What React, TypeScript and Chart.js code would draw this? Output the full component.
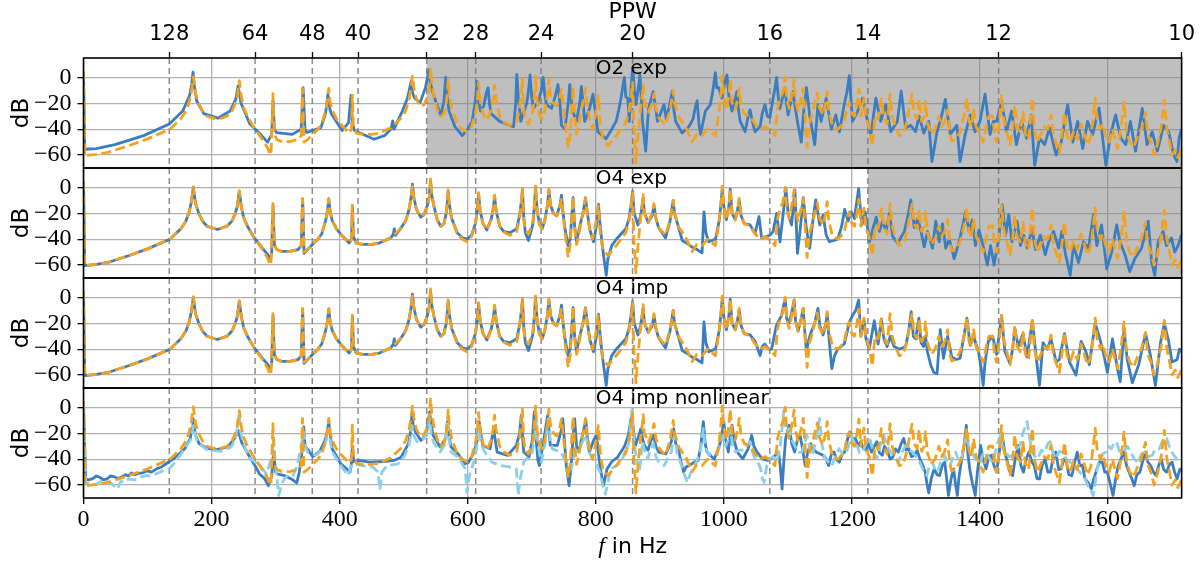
import React, { useEffect, useRef } from "react";
import { Chart, registerables } from "chart.js";
Chart.register(...registerables);

// ---------- axis definitions ----------
const F_MAX = 1715;
const PPW_FACTOR = 17150; // f [Hz] = PPW_FACTOR / PPW
const PPW_TICKS = [128, 64, 48, 40, 32, 28, 24, 20, 16, 14, 12, 10];
const F_TICKS = [0, 200, 400, 600, 800, 1000, 1200, 1400, 1600];
const DB_TICKS = [-60, -40, -20, 0];
const DB_MIN = -70;
const DB_MAX = 15;
const PANEL_LABELS = ["O2 exp", "O4 exp", "O4 imp", "O4 imp nonlinear"];
const SHADE_FROM_PPW = [32, 14, null, null];
const LABEL_AT_F = 800;

// ---------- data: [f in Hz, dB] ----------
const REF = [
  [0,5],[2,-60.5],[20,-59.5],[38,-58],[69,-53],[100,-47.5],[135,-40],[152,-32],[160,-26],[165,-19],[168.5,-11],[171.5,0.5],[175,-12.5],[180,-20],[186,-26],[193,-30],[209,-32.5],[224,-30],[232,-26],[237,-20],[240,-15],[243.4,-2.5],[246.5,-15],[250,-23],[256,-30],[266,-38.5],[281,-49],[288,-55],[291.5,-60],[293,-57],[295.8,-12.5],[298,-44],[302,-48],[310,-49.6],[322,-49.6],[335,-48],[340,-45],[342,-8.5],[344.5,-50],[350,-48],[358,-44],[366,-40],[372,-36],[378,-26],[381,-18],[383,-8.5],[385,-18],[388,-25],[395,-32],[405,-38],[415,-43],[418.5,-40],[419.8,-13.8],[421.5,-38],[426,-43],[436,-44],[450,-44],[462,-43],[480,-39],[495,-32],[503,-26],[508.5,-17],[511.5,-8],[513.7,1],[516,-8],[520,-17],[526.6,-22.5],[532,-21],[537,-15],[540,-8],[542,6.5],[544,-5],[547,-14],[552.5,-25],[558,-30],[563,-28],[566.5,-20],[568.5,-10],[569.5,-2],[571,-12],[575,-24],[583.7,-36],[592,-40],[599,-42],[606,-38],[612,-28],[615,-18],[617,-4],[619.5,-18],[624,-28],[630,-33],[637,-25],[640,-16],[642,-6],[644.5,-18],[650,-30],[656,-34.5],[666,-37],[676.7,-34],[681.5,-22],[684,-10],[685.5,-1],[687.5,-25],[690,-33],[695,-36],[702,-26],[704.5,-12],[706,1],[708.5,-18],[712,-29],[717,-32],[721,-24],[724.5,-14],[726.8,-1.3],[729.5,-14],[734,-20],[739,-22],[744,-15],[746.5,-9],[749,-20],[752,-35],[757,-54],[760,-45],[763,-20],[764.6,-7],[767,-30],[770,-44],[773,-38],[778,-24],[782,-16],[784,-8.5],[787,-22],[791,-34],[795,-40],[800,-28],[804,-14],[807,-35],[811,-47.5],[819,-52.7],[832,-45],[847,-35],[852,-26],[855,-16],[857.6,-4],[859.5,-40],[862.8,-66],[866,-45],[870,-24],[873,-12],[874,-5.5],[876,-20],[882,-27],[888,-20],[891,-12.5],[894,-24],[898,-31],[909,-37],[916,-25],[919.5,-15],[921,-10],[923,-20],[930,-31],[940,-38],[950.7,-49.6],[958,-44],[966,-45],[975,-40],[987,-45],[993,-25],[996,-10],[997.5,1],[1000,-15],[1004,-25],[1008,-14],[1010,-1.5],[1013,-20],[1018,-25],[1022,-16],[1024,-8.5],[1027,-22],[1032,-28],[1041,-30],[1049,-36],[1057,-40],[1065,-38],[1074.6,-42],[1080,-45],[1084,-24],[1088,-16],[1092,-12],[1094.5,-4],[1096,0],[1098,-16],[1102,-24],[1106,-14],[1109.8,-2],[1112,-18],[1116,-26],[1121,-16],[1124,-8.5],[1127,-30],[1130,-54],[1134,-35],[1138,-28],[1142,-20],[1146,-12],[1149,-23],[1155,-29],[1159,-20],[1161.5,-11],[1164,-26],[1170,-38],[1178,-40],[1188,-35],[1193,-22],[1196,-19],[1199,-27],[1204,-30],[1208,-20],[1211,-9],[1214,-30],[1219,-16],[1222,-32],[1227,-38],[1232,-53],[1236,-30],[1241,-32],[1246,-16.4],[1250,-30],[1255,-36],[1259.7,-12.5],[1263,-30],[1268,-38],[1274,-45],[1280,-44],[1286,-34],[1291,-20],[1294,-13],[1297,-28],[1302,-32],[1305,-17],[1309,-34],[1313,-30],[1315,-19],[1318,-35],[1324,-44],[1330,-40],[1336,-30],[1340,-38],[1345,-34],[1349.6,-25],[1353,-44],[1356,-49],[1362,-48],[1369,-42],[1375,-30],[1379.6,-16],[1383,-34],[1387,-38],[1390,-24],[1394,-38],[1400,-44],[1405,-50],[1410,-38],[1414,-30],[1419.9,-30],[1423,-45],[1426,-50],[1430,-35],[1433.8,-14],[1437,-32],[1443,-44],[1447,-52],[1451,-40],[1454.5,-21.5],[1458,-38],[1463,-42],[1467.4,-27],[1471,-44],[1476,-48],[1481.9,-16],[1485,-40],[1490,-50],[1495,-44],[1500,-38],[1506,-40],[1511,-29],[1515,-45],[1520,-52],[1524,-58],[1528,-44],[1532,-27],[1536,-45],[1541,-50],[1546,-42],[1552,-48],[1558,-36],[1563,-44],[1568,-52],[1573,-46],[1577,-30],[1580,-16],[1583,-32],[1588,-40],[1592,-36],[1597,-46],[1602,-50],[1607,-40],[1611,-48],[1615,-55],[1620,-40],[1625,-19],[1629,-42],[1634,-50],[1640,-54],[1646,-46],[1652,-40],[1658.6,-27],[1662,-44],[1667,-50],[1672,-60],[1677,-52],[1683,-38],[1688,-17.7],[1692,-40],[1697,-52],[1700,-60],[1705,-56],[1709,-62],[1713,-58],[1715,-55]
];

const O2_EXP = [
  [0,4],[2,-55.5],[20,-55],[49,-52],[94,-45],[134,-36],[155,-26],[165.7,-14],[169,-5],[171,4],[173,-6],[176.7,-18],[187.8,-28],[210,-31.5],[229,-26],[237.7,-17],[241.5,-6.5],[246,-20],[259.8,-36],[273.7,-42.6],[287.5,-50],[294,-44],[296,-18],[298,-40],[301.4,-42.6],[326,-44],[340,-40],[343,-8],[346,-40],[348.5,-42.6],[370.6,-39],[378,-28],[381.7,-13],[385,-25],[387,-28],[403.9,-41],[414,-35],[417.7,-14],[420,-35],[423,-41],[453.7,-47.8],[470,-45],[480,-40],[483,-33.6],[485,-40],[498,-26],[506,-16],[512,-2.6],[514,-12],[517,-16],[525.7,-19.5],[534,-8],[539.8,6],[542,-5],[545,-11],[551,-20],[558,-29],[563,-18],[565.6,0],[568,-15],[570.8,-26],[580,-38],[591.5,-45],[600,-40],[607,-34],[612,-18],[614.7,-3],[617,-18],[620,-26],[625,-22],[629,-12],[631.8,-8],[634,-20],[636.4,-28],[650,-34],[660,-36],[671.6,-38],[675,-20],[676.7,2.3],[679,-15],[683,-34],[692.2,-20],[695,-10],[697.4,2],[700,-15],[702.6,-24],[710,-19],[715,-10],[718,0],[720,-12],[723,-21],[731,-24],[737,-14],[741,-5.5],[744,-20],[746.5,-37],[751.7,-40],[757,-20],[759.4,-5.5],[762,-18],[764.6,-27],[769.8,-34],[775,-20],[777.5,-7],[780,-18],[782.7,-34],[790.4,-24],[795.6,-13],[799,-25],[803.4,-42],[816,-47.5],[825,-40],[831.8,-34],[836,-25],[839.5,-16],[842,-8],[844.7,0],[847,-15],[850,-16],[852.4,-34],[855,-10],[857.6,7.5],[860,-8],[862.8,-21],[866,-10],[869,2],[871,-15],[873,-34],[878,-57],[882.4,-24],[886,-18],[889.7,-11],[893,-22],[896.4,-34],[901,-28],[906.7,-21],[910,-32],[915,-22],[919.6,-10.6],[922,-25],[924.8,-34],[935,-43],[945.5,-38],[952,-32],[956,-22],[958.4,-18],[961,-35],[963.6,-44],[971.3,-26],[979,-21],[983,-10],[986.8,3.6],[989,-8],[992,-8],[997,-16],[1001,-5],[1004.9,2],[1008,-15],[1012.6,-26],[1017,-18],[1020.4,-11],[1023,-25],[1025.6,-34],[1033.3,-42],[1038,-30],[1041,-25],[1045,-35],[1048.8,-42],[1056.6,-38],[1060,-28],[1064.3,-21],[1068,-30],[1072,-31],[1077,-16],[1080,-8],[1082.4,0],[1085,-15],[1087.6,-24],[1092,-15],[1095.3,-8],[1098,-20],[1100.5,-29],[1104,-20],[1108,-11],[1112,-25],[1116,-37],[1121,-50],[1125,-25],[1129,-8],[1132,-20],[1134,-29],[1142,-52],[1147,-21],[1152,-34],[1160,-16],[1168,-40],[1175,-29],[1180.6,-42],[1188,-21],[1192,-12],[1196,1.3],[1201,-34],[1209,-26],[1216.8,-16],[1224.5,-34],[1229.7,-44],[1237.5,-16],[1245,-34],[1253,-21],[1260.7,-42],[1271,-34],[1277,-10.6],[1284,-39],[1291.7,-37],[1299.5,-42],[1305,-30],[1312.4,-43],[1320,-34],[1325,-65],[1333,-42],[1340,-30],[1346,-17],[1353.7,-44],[1364,-37],[1369,-65],[1377,-44],[1384.8,-29],[1392.5,-42],[1400,-34],[1408,-13],[1415.8,-44],[1421,-34],[1426,-34],[1433.8,-18.4],[1441.6,-42],[1449.4,-26],[1457,-52],[1465,-34],[1472.6,-47],[1480,-29],[1485.5,-68],[1493,-47],[1501,-52],[1508.8,-39],[1514,-50],[1519,-60],[1527,-50],[1532,-35],[1537,-21],[1545,-50],[1552.7,-34],[1560.5,-55],[1568,-34],[1576,-44],[1586,-23.6],[1590,-40],[1596.6,-68],[1604,-44],[1612,-29],[1620,-47],[1627.7,-52],[1635,-34],[1643,-57],[1653.5,-24],[1661,-52],[1669,-42],[1677,-57],[1687,-37],[1694.8,-42],[1702.5,-60],[1707.7,-65],[1711,-47],[1715,-40]
];

const O4_LOW = [
  [0,5],[2,-60.5],[20,-59.5],[38,-58],[69,-53],[100,-47.5],[135,-40],[152,-32],[160,-26],[165,-19],[168.5,-11],[171.5,0],[175,-12.5],[180,-20],[186,-26],[193,-30],[209,-32.5],[224,-30],[232,-26],[237,-20],[240,-15],[243.4,-3],[246.5,-15],[250,-23],[256,-30],[266,-38.5],[281,-48],[288,-52],[291.5,-57],[294,-50],[296,-14],[298,-44],[302,-48],[310,-49.5],[322,-49.5],[335,-48],[340,-45],[342.3,-9],[344.5,-51],[350,-48],[358,-44],[366,-40],[372,-36],[378,-26],[381,-18],[383,-9],[385,-18],[388,-25],[395,-32],[405,-38],[415,-43],[418.5,-40],[420,-15],[421.5,-38],[426,-43],[436,-44],[450,-44],[462,-43],[480,-39],[484,-36],[485.3,-32],[487,-37],[495,-32],[503,-26],[508.5,-17],[511.5,-8],[513.7,2.5],[516,-8],[520,-17],[526.6,-23],[532,-21],[537,-14],[540,-7],[542,5],[544,-6],[547,-14],[552.5,-25],[558,-30],[563,-28],[566.5,-20],[568.5,-10],[569.5,-3],[571,-12],[575,-24],[583.7,-35],[592,-39],[599,-40],[606,-37],[612,-28],[615,-18],[617,-5],[619.5,-18],[624,-28],[630,-33],[637,-24],[640,-16],[642,-7],[644.5,-18],[650,-30],[656,-34],[666,-35],[676.7,-32],[681.5,-20],[684,-10],[685.5,-2],[687.5,-22],[690,-35],[695,-41],[702,-28],[704.5,-12],[706,0],[708.5,-18],[712,-28],[717,-31],[721,-24],[724.5,-14],[726.8,-2],[729.5,-14],[734,-20],[739,-22],[744,-14],[746.5,-6],[749,-20],[752,-32],[756.8,-45],[760,-40],[763,-20],[764.6,-8],[767,-30],[770,-42],[775,-30],[780,-20],[784,-8],[787,-20],[791,-33],[796.6,-42],[801,-30],[804.3,-13],[807,-30],[811,-48],[816.4,-68],[819,-55],[825,-45],[832,-40],[847,-32],[852,-24],[855,-14],[857.6,-3],[860,-20],[866,-29],[870,-22],[873,-12],[874,-8],[876,-20],[882,-27],[888,-22],[891,-14],[894,-24],[898,-31],[909,-39],[916,-26],[919.5,-15],[921,-10],[923,-20],[930,-32],[935,-41],[945,-44],[950,-46],[958,-48],[966,-50.6],[969,-19],[972,-35],[976.5,-42],[987,-40],[993,-25],[996,-10],[997.5,-2],[1000,-15],[1004,-25],[1008,-14],[1010,-1.3],[1013,-20],[1018,-25],[1022,-16],[1024,-10],[1027,-22],[1032,-28],[1041,-29]
];

const O4_EXP_HIGH = [
  [1048.8,-35.5],[1055,-22.5],[1059,-39],[1066,-38],[1072,-37],[1077,-34],[1082.5,-20],[1087.7,-42],[1093,-19],[1097,-1],[1100.6,-21],[1105.8,-29],[1111,-2],[1115,-51],[1119,-34],[1124,-8],[1129,-32],[1134,-47],[1139.5,-24],[1143.6,-9.6],[1149.8,-29],[1155,-21.5],[1160,-37],[1165,-42],[1172,-41],[1178,-40],[1184,-30],[1188.7,-17],[1194,-26],[1199,-19],[1204,-24],[1210.5,-1],[1215.6,-29],[1221,-19],[1227.5,-42],[1232.7,-32],[1238,-23],[1243,-34],[1248,-26],[1253.5,-34],[1258.6,-20],[1263.8,-38],[1271.6,-43],[1282,-34],[1288,-21],[1292,-9.6],[1297.5,-31],[1302.7,-24],[1308,-34],[1313,-46],[1318,-34],[1326,-47],[1331,-26],[1336.4,-42],[1341.5,-28],[1346.7,-47],[1352,-40],[1359.7,-55],[1367.5,-42],[1377.8,-18.7],[1383,-34],[1388,-25],[1393,-45],[1398.5,-33],[1406,-47],[1411.5,-60],[1416.7,-45],[1422,-60],[1429.6,-39],[1434.8,-13.5],[1440,-37],[1445,-21],[1450,-42],[1458,-26],[1463.3,-45],[1468.5,-37],[1473.7,-47],[1481.4,-32],[1486.6,-48],[1494.4,-37],[1502,-52],[1507.4,-42],[1515,-34],[1523,-47],[1528,-34],[1533,-50],[1541,-68],[1546,-45],[1554,-58],[1561.7,-42],[1569.5,-47],[1577.3,-21],[1582.5,-45],[1590,-29],[1598,-63],[1605.8,-50],[1613.6,-29],[1618.7,-42],[1626.5,-52],[1634,-65],[1642,-55],[1652.4,-47],[1662.8,-26],[1668,-57],[1673,-68],[1678.3,-42],[1686,-34],[1691.3,-45],[1699,-39],[1704.2,-50],[1709.4,-45],[1714.6,-37]
];

const O4_IMP_HIGH = [
  [1049,-34],[1056.6,-45],[1060,-38],[1064,-36],[1070,-40],[1074.6,-40],[1082,-22],[1088,-16],[1090,-14],[1094,-5],[1096,-1],[1098,-16],[1101.5,-20],[1106,-12],[1109.8,-2],[1112,-18],[1116,-26],[1121,-16],[1124,-8.5],[1127,-30],[1129,-42],[1133,-32],[1137,-26],[1142,-20],[1147,-8.5],[1150,-22],[1155,-29],[1159,-22],[1161.5,-12],[1164,-30],[1168.7,-55],[1173,-45],[1178,-40],[1188,-36],[1193,-26],[1196,-19],[1201,-14],[1206,-10],[1210.6,-2],[1214,-30],[1219,-18],[1222,-32],[1227,-40],[1235,-18],[1241,-36],[1246,-17],[1250,-32],[1255,-38],[1260,-30],[1266,-38],[1274,-40],[1284,-38],[1289,-25],[1292.7,-11],[1296,-30],[1299.5,-32],[1304.6,-16],[1308,-35],[1312,-38],[1315,-30],[1318,-42],[1323,-52],[1328,-58],[1333,-59],[1338,-25],[1343,-47],[1349.6,-30],[1356,-46],[1363,-48],[1369,-47],[1375,-30],[1379.6,-16],[1384.8,-37],[1390,-30],[1397.7,-42],[1402,-55],[1405,-68],[1408,-50],[1413,-34],[1419.9,-30],[1426,-44],[1433.8,-14],[1439,-42],[1446.8,-51],[1451,-40],[1454.5,-24],[1459.7,-38],[1467.4,-28],[1473.6,-46],[1481.9,-18],[1488,-47],[1493,-68],[1498.5,-35],[1505,-40],[1511,-32],[1519,-50],[1524,-48],[1532,-28],[1539.8,-50],[1545,-55],[1550,-60],[1558,-34],[1565.6,-42],[1570.8,-52],[1580,-20],[1586,-30],[1591.5,-40],[1595,-48],[1599,-58],[1607,-32],[1614.7,-55],[1619,-65],[1625,-25],[1630,-48],[1638,-66],[1648,-52],[1658.6,-28],[1666,-44],[1674,-68],[1682,-35],[1688,-20],[1694.8,-34],[1700,-50],[1708,-48],[1711.6,-40],[1715,-42]
];

const NL_BLUE = [
  [0,4],[3.3,-55.3],[8,-56],[14.4,-55],[20,-53],[25.5,-54],[31,-56],[36.6,-55.3],[42,-53],[47.6,-53.5],[53,-55],[58.7,-54],[66,-52],[70,-53],[75,-50.6],[80,-52],[86,-51],[92,-50.6],[100,-49],[106,-50],[114,-47.5],[122,-46],[133.5,-42],[140,-40],[147,-37],[158,-32],[166.8,-24],[169.5,-16],[171,-8.6],[173,-16],[175,-21.5],[180.6,-28],[191.7,-31.4],[208,-32.7],[225,-30.6],[236,-24],[239,-21],[241.5,-17.7],[244,-22],[247,-27],[258,-37],[269,-46],[274.8,-51.4],[283,-55],[288.6,-60.5],[294,-52.7],[297,-34],[300,-50],[302.5,-51.4],[313.6,-52.7],[324.7,-55.3],[333,-58.4],[337,-50],[341.3,-34],[344,-15],[346,-30],[349.6,-32],[358,-38],[369,-34],[377.3,-25.5],[381,-18],[383,-11],[385,-20],[388.4,-32],[402,-43.6],[410,-47],[416,-50],[418,-45],[420,-30],[422,-42],[430,-41],[446.5,-42.3],[468.7,-41.8],[485,-41],[496,-38.5],[507.5,-28],[511,-18],[513,-4.7],[515,-14],[518.6,-19],[526.9,-25.5],[535,-21.5],[538,-12],[540.7,-3.4],[543,-14],[546,-21.5],[557,-30.6],[565.6,-24],[568.4,-11],[571,-22],[574,-30.6],[585,-35.8],[596,-43.6],[601.6,-42.3],[610,-34.5],[615,-25],[618,-11],[621,-22],[623.8,-29.4],[635,-32],[640.5,-16.4],[643,-25],[646,-34.5],[662.6,-37],[676,-29.4],[681,-20],[683.7,-6],[686,-25],[687.5,-34.5],[695.8,-38.4],[701,-25],[704,-3.4],[707,-25],[709.7,-41],[712,-45],[720,-21.5],[723,-12],[725,-6],[727,-18],[729,-29.4],[740,-29.4],[746,-18],[748.5,-8.6],[751,-25],[754,-45],[758.4,-60.5],[762,-42],[765,-20],[767,-8.6],[770,-30],[773.4,-34.5],[780,-20],[784.5,-9.9],[787,-25],[790,-34.5],[797,-25],[801,-21.5],[804,-35],[806.6,-45],[812,-60.5],[817.7,-47.5],[825,-42],[834.3,-38.4],[845,-30],[851,-21.5],[854,-12],[856.4,-6],[859,-18],[862,-29.4],[867,-22],[870.4,-16.4],[873,-24],[876,-29.4],[881.6,-33],[886,-26],[890,-21.5],[894,-30],[898.3,-34.5],[909.5,-36],[915,-30],[918,-26.5],[921.8,-16.4],[925,-28],[929,-32],[933,-42],[937.4,-50],[941,-46],[945.8,-45],[955,-42],[959.8,-41],[964,-30],[968,-11],[971,-28],[973.7,-34.5],[985,-40],[993.3,-29.4],[997,-20],[1000,-11],[1003,-25],[1007,-34.5],[1010,-22],[1012.8,-13.8],[1016,-25],[1021,-34.5],[1029.6,-39.7],[1038,-32],[1043.6,-21.5],[1047,-30],[1052,-34.5],[1060,-39.7],[1068.7,-41],[1077,-38.4],[1085.5,-34.5],[1088,-45],[1091,-63],[1094,-40],[1096.6,-24],[1102,-13.8],[1106,-28],[1110.6,-34.5],[1115,-25],[1119,-21.5],[1123,-32],[1127,-45],[1131,-35],[1135.8,-28],[1140,-32],[1144,-34.5],[1155,-37],[1160,-40],[1163.7,-45],[1168,-36],[1172,-34.5],[1176,-40],[1180.4,-42.3],[1185,-36],[1188.8,-34.5],[1193,-25],[1197,-19],[1201,-24],[1205.6,-24],[1210,-30],[1214,-26.5],[1218,-32],[1222,-33],[1226,-28],[1230.7,-34.5],[1235,-30],[1239,-26.5],[1243,-35],[1247.5,-37],[1251,-30],[1255.9,-34.5],[1260,-40],[1264,-38.4],[1268,-32],[1272.6,-34.5],[1277,-28],[1281,-24],[1285,-33],[1289,-32],[1293,-38],[1297.8,-37],[1302,-33],[1306,-39.7],[1310,-44],[1314.5,-50],[1317,-58],[1320,-66],[1324,-55],[1328.5,-47.5],[1333,-52],[1337,-52.7],[1341,-45],[1345,-42.3],[1348,-55],[1350.8,-68],[1355,-55],[1359,-47.5],[1362,-60],[1364.8,-68],[1367,-55],[1370,-45],[1375,-30],[1378.8,-13.8],[1381,-35],[1384,-47.5],[1388,-58],[1392.7,-68],[1396,-50],[1401,-29.4],[1405,-40],[1409.5,-47.5],[1414,-38],[1417.9,-37],[1422,-45],[1426,-50],[1430,-35],[1434.6,-21.5],[1439,-35],[1443,-42.3],[1447,-50],[1451,-52.7],[1455,-40],[1459.8,-29.4],[1464,-45],[1468,-50],[1472,-40],[1476.5,-34.5],[1481,-42],[1485,-45],[1489,-55],[1493,-55.3],[1497,-45],[1501.7,-39.7],[1506,-50],[1510,-50],[1514,-40],[1518.4,-34.5],[1523,-48],[1526.8,-47.5],[1531,-40],[1535,-42.3],[1539,-52],[1543.6,-52.7],[1548,-42],[1552,-34.5],[1556,-45],[1560,-44.7],[1564,-55],[1568.7,-58],[1574,-63],[1578,-55],[1582.7,-47.5],[1587,-42],[1591,-42.3],[1595,-50],[1599,-50],[1603,-58],[1607.8,-68],[1612,-55],[1616,-45],[1620,-40],[1624.6,-34.5],[1629,-45],[1633,-50],[1637,-55],[1641,-60.5],[1645,-52],[1649.7,-50],[1654,-42],[1658,-34.5],[1662,-42],[1666.5,-45],[1671,-50],[1675,-52.7],[1679,-45],[1683,-39.7],[1687,-48],[1691.6,-50],[1696,-44],[1700,-42.3],[1704,-50],[1708,-55.3],[1712,-48],[1715,-47.5]
];

const NL_LIGHT = [
  [0,3],[3.3,-58],[10,-59],[20,-59.6],[28,-57],[36.6,-57],[44,-59],[53,-63],[58,-57],[64,-58],[70,-55.3],[80,-56],[88,-54],[97.5,-52.7],[105,-53],[115,-51],[125,-48.8],[135,-47],[147,-39.7],[158,-32],[166.8,-25.5],[169.5,-20],[172,-14],[175,-22],[178,-26.5],[191.7,-32.5],[214,-34],[230.5,-30.6],[237,-25],[241.5,-12],[243,-4],[245,-18],[250,-28],[258,-38.4],[274.8,-45],[286,-51.4],[291.4,-42.3],[295,-35],[297,-24],[300,-45],[305,-68],[309,-60],[313.6,-55.3],[320,-52],[327,-52.7],[334,-45],[341,-26.5],[344,-19],[347,-30],[349.6,-34.5],[363,-37],[374.5,-32],[380,-24],[383,-16.4],[386,-28],[388.4,-34.5],[402,-45],[413,-52.7],[418,-45],[421.6,-43.6],[435.5,-45],[452,-46],[460,-50],[463,-64],[466,-50],[474,-45],[491,-43.6],[502,-37],[509,-28],[513,-14],[516,-22],[521,-26.5],[532,-24],[538,-18],[540.7,-8.6],[543,-20],[546,-26.5],[557,-34.5],[565,-28],[568.4,-12.5],[571,-25],[574,-34.5],[585,-38.4],[596,-47.5],[599,-65.7],[602,-55],[604,-50.6],[612,-38],[618,-16.4],[621,-28],[626.6,-34.5],[637.7,-42.3],[651.5,-45],[665,-46],[676,-47.5],[679,-68],[682,-55],[687.5,-42.3],[701,-34.5],[704,-25],[707,-11],[710,-30],[715,-42.3],[721,-28],[726,-8.6],[729,-25],[732,-32],[746,-34.5],[751,-40],[756,-44],[762,-47.5],[765,-40],[768,-34.5],[776,-30],[784.5,-21.5],[790,-35],[795.5,-39.7],[801,-44],[806.6,-50],[811,-60],[815,-67],[819,-58],[823.3,-47.5],[832,-45],[840,-42.3],[845,-35],[851,-29.4],[854,-15],[856.4,-2],[859,-20],[862,-34.5],[867.6,-50],[870,-42],[873,-26.5],[877,-35],[881.6,-39.7],[885,-32],[890,-28],[894,-38],[898.3,-42.3],[906.7,-45],[912,-40],[918,-34.5],[921,-25],[923.5,-21.5],[927,-35],[932,-42.3],[937,-50],[943,-58],[947,-52],[951.4,-47.5],[957,-42],[962.6,-35.8],[965,-28],[968,-16.4],[971,-30],[976.5,-37],[983,-36],[990.5,-34.5],[995,-28],[998.9,-21.5],[1003,-30],[1007,-25],[1010,-16.4],[1014,-30],[1018,-34.5],[1024,-33],[1029.6,-33],[1035,-30],[1040.8,-26.5],[1045,-35],[1049,-39.7],[1053,-42],[1057.5,-47.5],[1060,-55],[1063,-58],[1067,-45],[1071.5,-39.7],[1077,-38],[1082.7,-42.3],[1088,-30],[1093.9,-2],[1097,-18],[1102,-16.4],[1106,-25],[1110.6,-29.4],[1116,-35],[1121.8,-34.5],[1126,-28],[1130,-21.5],[1134,-32],[1138.5,-37],[1144,-25],[1149.7,-8.6],[1153,-28],[1158,-39.7],[1163,-42],[1169,-45],[1174,-38],[1180,-32],[1186,-36],[1191.6,-34.5],[1196,-28],[1200,-21.5],[1204,-30],[1208,-29.4],[1212,-35],[1216.8,-34.5],[1222,-28],[1228,-24],[1233,-33],[1239,-39.7],[1244,-30],[1250,-21.5],[1255,-30],[1261,-34.5],[1266,-38],[1272.6,-42.3],[1278,-35],[1283.8,-29.4],[1289,-33],[1295,-34.5],[1300,-38],[1306,-42.3],[1311,-48],[1317,-52.7],[1321,-45],[1325.7,-42.3],[1330,-48],[1334,-50],[1340,-40],[1345,-37],[1349,-43],[1353.6,-45],[1358,-38],[1362,-34.5],[1366,-40],[1370,-42.3],[1375,-30],[1378.8,-21.5],[1384,-33],[1390,-37],[1395,-42],[1401,-42.3],[1405,-36],[1409.5,-34.5],[1415,-40],[1420.7,-42.3],[1426,-30],[1431.8,-21.5],[1436,-32],[1440,-34.5],[1446,-38],[1451,-37],[1457,-32],[1462.6,-29.4],[1467,-20],[1473.7,-11],[1478,-25],[1482,-34.5],[1486,-38],[1490.5,-39.7],[1496,-33],[1501.7,-34.5],[1506,-28],[1510,-26.5],[1514,-35],[1518.4,-39.7],[1524,-34],[1529.6,-34.5],[1535,-40],[1540.8,-42.3],[1546,-45],[1552,-47.5],[1556,-50],[1560,-52.7],[1564,-55],[1568.7,-60.5],[1573,-64],[1577,-68],[1581,-55],[1585.8,-39.7],[1591,-36],[1597,-34.5],[1601,-30],[1605,-32],[1609,-28],[1613,-26.5],[1618,-34],[1624.6,-34.5],[1630,-30],[1635.8,-34.5],[1641,-40],[1647,-42.3],[1652,-36],[1658,-34.5],[1663,-38],[1669,-37],[1674,-32],[1680,-32],[1686,-25],[1691.6,-24],[1697,-32],[1702.8,-37],[1708,-40],[1715,-39.7]
];

const O4_EXP = O4_LOW.concat(O4_EXP_HIGH);
const O4_IMP = O4_LOW.concat(O4_IMP_HIGH);

// ---------- styling ----------
const BLUE = "#3a7dc0";
const ORANGE = "#f3a21f";
const LIGHT_BLUE = "#8ccfe9";
const GRID = "#b0b0b0";
const SANS = "'DejaVu Sans', sans-serif";
const SERIF = "'Liberation Serif', serif";
const PANEL_IDS = ["y1", "y2", "y3", "y4"];

const toXY = (arr: number[][]) => arr.map(([x, y]) => ({ x, y }));

function line(data: number[][], yAxisID: string, color: string, order: number, dash?: number[]) {
  return {
    data: toXY(data),
    xAxisID: "x",
    yAxisID,
    borderColor: color,
    backgroundColor: color,
    borderWidth: 2.8,
    borderDash: dash || [],
    borderJoinStyle: "round" as const,
    pointRadius: 0,
    pointHoverRadius: 0,
    fill: false,
    tension: 0,
    order,
  };
}

const DASH = [10, 4.5];

const datasets = [
  line(O2_EXP, "y1", BLUE, 2),
  line(REF, "y1", ORANGE, 0, DASH),
  line(O4_EXP, "y2", BLUE, 2),
  line(REF, "y2", ORANGE, 0, DASH),
  line(O4_IMP, "y3", BLUE, 2),
  line(REF, "y3", ORANGE, 0, DASH),
  line(NL_BLUE, "y4", BLUE, 2),
  line(NL_LIGHT, "y4", LIGHT_BLUE, 1, DASH),
  line(REF, "y4", ORANGE, 0, DASH),
];

function yScale() {
  return {
    type: "linear" as const,
    position: "left" as const,
    stack: "panels",
    stackWeight: 1,
    min: DB_MIN,
    max: DB_MAX,
    afterBuildTicks: (s: any) => {
      s.ticks = DB_TICKS.map((v) => ({ value: v }));
    },
    afterFit: (s: any) => {
      s.width = 83.5;
    },
    ticks: {
      callback: (v: any) => (Number(v) < 0 ? "\u2212" + Math.abs(Number(v)) : String(v)),
      font: { family: SERIF, size: 24 },
      color: "#000",
      padding: 6,
      autoSkip: false,
    },
    grid: { color: GRID, lineWidth: 1.3, tickColor: "#000", tickLength: 6, tickWidth: 1.3 },
    border: { display: false },
    title: { display: true, text: "dB", font: { family: SANS, size: 23 }, color: "#000", padding: { top: 8, bottom: 0 } },
  };
}

const panelPlugin = {
  id: "panelDecor",
  beforeDatasetsDraw(chart: any) {
    const { ctx, chartArea, scales } = chart;
    const xs = scales.x;
    ctx.save();
    PANEL_IDS.forEach((id, k) => {
      const ys = scales[id];
      const p = SHADE_FROM_PPW[k];
      if (p) {
        const x0 = xs.getPixelForValue(PPW_FACTOR / p);
        ctx.fillStyle = "rgba(128,128,128,0.5)";
        ctx.fillRect(x0, ys.top, chartArea.right - x0, ys.bottom - ys.top);
      }
    });
    ctx.strokeStyle = "rgba(120,120,120,0.85)";
    ctx.lineWidth = 1.5;
    ctx.setLineDash([6, 4]);
    PPW_TICKS.forEach((p) => {
      const x = xs.getPixelForValue(PPW_FACTOR / p);
      if (x >= chartArea.right - 1) return;
      ctx.beginPath();
      ctx.moveTo(x, chartArea.top);
      ctx.lineTo(x, chartArea.bottom);
      ctx.stroke();
    });
    ctx.restore();
  },
  beforeDatasetDraw(chart: any, args: any) {
    const { ctx, chartArea } = chart;
    const ys = args.meta.yScale;
    ctx.save();
    ctx.beginPath();
    ctx.rect(chartArea.left, ys.top, chartArea.right - chartArea.left, ys.bottom - ys.top);
    ctx.clip();
  },
  afterDatasetDraw(chart: any) {
    chart.ctx.restore();
  },
  afterDatasetsDraw(chart: any) {
    const { ctx, chartArea, scales } = chart;
    ctx.save();
    ctx.strokeStyle = "#000";
    ctx.lineWidth = 1.6;
    ctx.setLineDash([]);
    PANEL_IDS.forEach((id, k) => {
      const ys = scales[id];
      ctx.strokeRect(chartArea.left, ys.top, chartArea.right - chartArea.left, ys.bottom - ys.top);
      ctx.fillStyle = "#000";
      ctx.font = `20px ${SANS}`;
      ctx.textAlign = "left";
      ctx.textBaseline = "top";
      ctx.fillText(PANEL_LABELS[k], scales.x.getPixelForValue(LABEL_AT_F), ys.top + 1);
    });
    ctx.restore();
  },
  afterDraw(chart: any) {
    const { ctx, chartArea } = chart;
    const cx = (chartArea.left + chartArea.right) / 2;
    ctx.save();
    ctx.fillStyle = "#000";
    ctx.textBaseline = "middle";
    ctx.textAlign = "center";
    ctx.font = `22px ${SANS}`;
    ctx.fillText("PPW", cx, 12);
    ctx.textAlign = "left";
    ctx.font = `italic 24px ${SERIF}`;
    const wf = ctx.measureText("f").width;
    ctx.font = `22px ${SANS}`;
    const wr = ctx.measureText(" in Hz").width;
    const x0 = cx - (wf + wr) / 2;
    ctx.font = `italic 24px ${SERIF}`;
    ctx.fillText("f", x0, 547);
    ctx.font = `22px ${SANS}`;
    ctx.fillText(" in Hz", x0 + wf, 547);
    ctx.restore();
  },
};

export default function App() {
  const ref = useRef<HTMLCanvasElement | null>(null);
  useEffect(() => {
    if (!ref.current) return;
    const chart = new Chart(ref.current, {
      type: "line",
      data: { datasets: datasets as any },
      plugins: [panelPlugin as any],
      options: {
        animation: false,
        responsive: true,
        maintainAspectRatio: false,
        layout: { padding: { left: 0, right: 10.5, top: 0, bottom: 0 } },
        plugins: { legend: { display: false }, tooltip: { enabled: false } },
        events: [],
        scales: {
          x: {
            type: "linear",
            position: "bottom",
            min: 0,
            max: F_MAX,
            afterBuildTicks: (s: any) => {
              s.ticks = F_TICKS.map((v) => ({ value: v }));
            },
            afterFit: (s: any) => {
              s.height = 63;
            },
            ticks: {
              font: { family: SERIF, size: 24 },
              color: "#000",
              padding: 1,
              maxRotation: 0,
              minRotation: 0,
              autoSkip: false,
              callback: (v: any) => String(v),
            },
            grid: { color: GRID, lineWidth: 1.3, tickColor: "#000", tickLength: 6, tickWidth: 1.3 },
            border: { display: false },
          },
          xTop: {
            type: "linear",
            position: "top",
            min: 0,
            max: F_MAX,
            afterBuildTicks: (s: any) => {
              s.ticks = PPW_TICKS.map((p) => ({ value: PPW_FACTOR / p }));
            },
            afterFit: (s: any) => {
              s.height = 58;
            },
            ticks: {
              font: { family: SANS, size: 21 },
              color: "#000",
              padding: 5,
              maxRotation: 0,
              minRotation: 0,
              autoSkip: false,
              callback: (_v: any, i: number) => String(PPW_TICKS[i]),
            },
            grid: { drawOnChartArea: false, tickColor: "#000", tickLength: 6, tickWidth: 1.3 },
            border: { display: false },
          },
          y4: yScale(),
          y3: yScale(),
          y2: yScale(),
          y1: yScale(),
        } as any,
      },
    });
    return () => chart.destroy();
  }, []);
  return (
    <div style={{ position: "absolute", left: 0, top: 0, width: 1200, height: 561, background: "#fff" }}>
      <canvas ref={ref} />
    </div>
  );
}
